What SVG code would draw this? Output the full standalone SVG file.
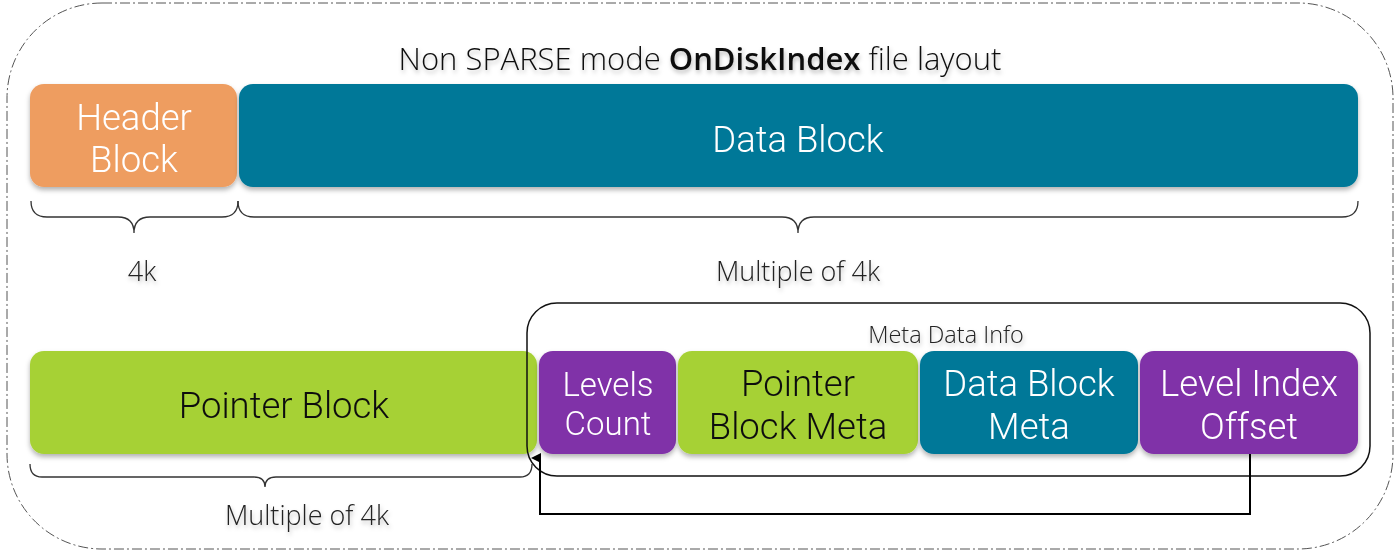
<svg xmlns="http://www.w3.org/2000/svg" width="1400" height="557" viewBox="0 0 1400 557">
<style>
.blk{filter:url(#sh)}
.bt{font-family:Roboto,"Liberation Sans",sans-serif;font-weight:300;font-size:36.5px;text-anchor:middle}
.sm{font-size:33px}
.w{fill:#ffffff}
.d{fill:#111111}
.lbl{font-family:"Open Sans","Liberation Sans",sans-serif;font-weight:300;font-size:27px;fill:#222;text-anchor:middle;filter:url(#tsh)}
.brace{fill:none;stroke:#333;stroke-width:1.3}
.conn{fill:none;stroke:#000;stroke-width:2}
</style>
<defs>
<filter id="sh" x="-10%" y="-20%" width="120%" height="150%">
<feDropShadow dx="0" dy="3" stdDeviation="2.5" flood-color="#000" flood-opacity="0.3"/>
</filter>
<filter id="tsh" x="-10%" y="-30%" width="120%" height="170%">
<feDropShadow dx="1" dy="3" stdDeviation="2" flood-color="#000" flood-opacity="0.25"/>
</filter>
<marker id="ah" markerWidth="10" markerHeight="10" refX="5" refY="9" orient="auto-start-reverse" markerUnits="userSpaceOnUse" viewBox="0 0 10 10">
<path d="M0,10 L5,0 L10,10 Z" fill="#000"/>
</marker>
</defs>
<rect id="frame" x="7" y="3" width="1386" height="546" rx="95" ry="95" fill="none" stroke="#555" stroke-width="1" stroke-dasharray="10,3,2,3"/>
<text id="title" x="700" y="70" font-family="'Open Sans','Liberation Sans',sans-serif" font-weight="300" font-size="31" fill="#111" text-anchor="middle" filter="url(#tsh)">Non SPARSE mode <tspan font-weight="600">OnDiskIndex</tspan> file layout</text>

<g id="header-block" class="blk">
<rect x="30" y="84" width="207" height="103" rx="14" fill="#EE9D61"/>
<text class="bt w" x="134" y="130">Header</text>
<text class="bt w" x="134" y="172">Block</text>
</g>
<g id="data-block" class="blk">
<rect x="239" y="84" width="1119" height="103" rx="14" fill="#027898"/>
<text class="bt w" x="798" y="152">Data Block</text>
</g>
<g id="pointer-block" class="blk">
<rect x="30" y="351" width="507" height="103" rx="14" fill="#A6D134"/>
<text class="bt d" x="284" y="418">Pointer Block</text>
</g>

<g id="meta-data-info">
<rect x="527" y="303" width="843" height="173" rx="30" fill="none" stroke="#111" stroke-width="1.5"/>
<text x="946" y="343" font-family="'Open Sans','Liberation Sans',sans-serif" font-weight="300" font-size="23.5" fill="#222" text-anchor="middle" filter="url(#tsh)">Meta Data Info</text>
</g>
<g id="levels-count" class="blk">
<rect x="539" y="351" width="137" height="103" rx="14" fill="#8030A8"/>
<text class="bt sm w" x="608" y="396">Levels</text>
<text class="bt sm w" x="608" y="435">Count</text>
</g>
<g id="pointer-block-meta" class="blk">
<rect x="678" y="351" width="240" height="103" rx="14" fill="#A6D134"/>
<text class="bt d" x="798" y="396">Pointer</text>
<text class="bt d" x="798" y="439">Block Meta</text>
</g>
<g id="data-block-meta" class="blk">
<rect x="920" y="351" width="218" height="103" rx="14" fill="#027898"/>
<text class="bt w" x="1029" y="396">Data Block</text>
<text class="bt w" x="1029" y="439">Meta</text>
</g>
<g id="level-index-offset" class="blk">
<rect x="1140" y="351" width="218" height="103" rx="14" fill="#8030A8"/>
<text class="bt w" x="1249" y="396">Level Index</text>
<text class="bt w" x="1249" y="439">Offset</text>
</g>

<g id="braces">
<path class="brace" d="M31,201 Q31,217 47,217 L118,217 Q134,217 134,233 Q134,217 150,217 L222,217 Q238,217 238,201"/>
<path class="brace" d="M238,201 Q238,217 254,217 L782,217 Q798,217 798,233 Q798,217 814,217 L1342,217 Q1358,217 1358,201"/>
<path class="brace" d="M30,464 Q30,477 42,477 L254,477 Q265,477 265,487 Q265,477 276,477 L520,477 Q532,477 532,464"/>
</g>
<text id="l-4k" class="lbl" x="142" y="281">4k</text>
<text id="l-mult1" class="lbl" x="798" y="281">Multiple of 4k</text>
<text id="l-mult2" class="lbl" x="307" y="525">Multiple of 4k</text>

<g id="connectors">
<path class="conn" d="M1250,454 L1250,514 L540,514 L540,458" marker-end="url(#ah)"/>
</g>
</svg>
